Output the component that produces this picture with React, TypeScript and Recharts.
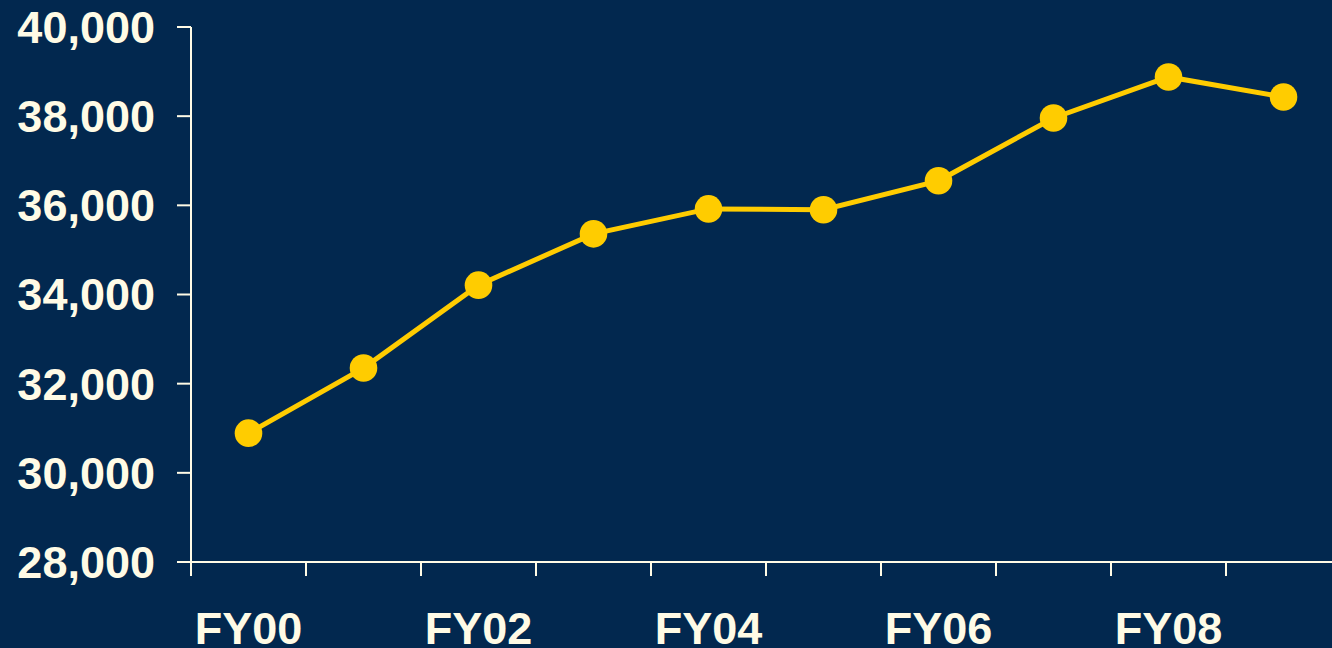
import React from "react";
import { LineChart, Line, XAxis, YAxis } from "recharts";

const categories = ["FY00", "FY01", "FY02", "FY03", "FY04", "FY05", "FY06", "FY07", "FY08", "FY09"];
const values = [30890, 32350, 34210, 35360, 35920, 35900, 36550, 37960, 38880, 38430];
const yTicks = [28000, 30000, 32000, 34000, 36000, 38000, 40000];
const boundaryTicks = [-0.5, 0.5, 1.5, 2.5, 3.5, 4.5, 5.5, 6.5, 7.5, 8.5, 9.5];
const labelTicks = [0, 2, 4, 6, 8];

const data = categories.map((c, i) => ({ i, name: c, value: values[i] }));

const BG = "#02284f";
const CREAM = "#fffbe6";
const GOLD = "#ffcc00";
const FONT = "'Liberation Sans', Arial, sans-serif";

export default function App() {
  return (
    <div
      style={{
        position: "absolute",
        left: 0,
        top: 0,
        width: 1332,
        height: 648,
        overflow: "hidden",
        background: BG,
      }}
    >
      <LineChart
        width={1361}
        height={648}
        data={data}
        margin={{ top: 27, right: 20, bottom: 0, left: 0 }}
      >
        <YAxis
          width={191}
          domain={[28000, 40000]}
          ticks={yTicks}
          interval={0}
          tickFormatter={(v: number) => v.toLocaleString("en-US")}
          axisLine={{ stroke: CREAM, strokeWidth: 2 }}
          tickLine={{ stroke: CREAM, strokeWidth: 2 }}
          tickSize={14}
          tickMargin={22}
          tick={{ fill: CREAM, fontSize: 45, fontWeight: 700, fontFamily: FONT }}
        />
        <XAxis
          xAxisId={0}
          type="number"
          dataKey="i"
          domain={[-0.5, 9.5]}
          ticks={boundaryTicks}
          interval={0}
          height={1}
          axisLine={{ stroke: CREAM, strokeWidth: 2 }}
          tickLine={{ stroke: CREAM, strokeWidth: 2 }}
          tickSize={14}
          tickFormatter={() => ""}
          tick={{ fill: CREAM, fontSize: 1 }}
        />
        <XAxis
          xAxisId="lbl"
          type="number"
          dataKey="i"
          domain={[-0.5, 9.5]}
          ticks={labelTicks}
          interval={0}
          height={85}
          axisLine={false}
          tickLine={false}
          tickSize={14}
          tickMargin={35}
          tickFormatter={(v: number) => categories[v]}
          tick={{ fill: CREAM, fontSize: 45, fontWeight: 700, fontFamily: FONT }}
        />
        <Line
          xAxisId={0}
          type="linear"
          dataKey="value"
          stroke={GOLD}
          strokeWidth={5}
          dot={{ r: 13.8, fill: GOLD, stroke: "none" }}
          activeDot={false}
          isAnimationActive={false}
        />
      </LineChart>
    </div>
  );
}
